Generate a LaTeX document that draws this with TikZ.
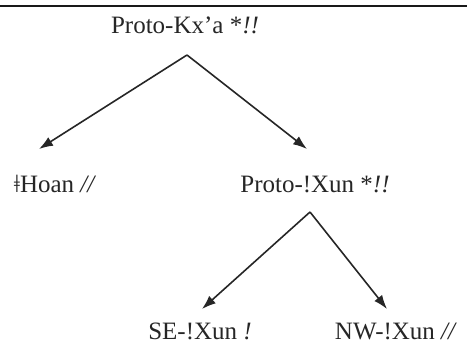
\documentclass[tikz,border=0pt]{standalone}
\usepackage{fontspec}
\setmainfont{Liberation Serif}
\usetikzlibrary{arrows.meta}
\begin{document}
\begin{tikzpicture}[x=1pt,y=-1pt,
  lbl/.style={anchor=base,inner sep=0pt,font=\fontsize{25}{28}\selectfont,text=black!85},
  edge/.style={line width=1.6pt,draw=black!85,-{Latex[length=14pt,width=10pt]}},
  rule/.style={line width=1.6pt,draw=black!90}]
\useasboundingbox (0,0) rectangle (467,360);
\coordinate (ruleL) at (0,6);
\coordinate (ruleR) at (467,6);
\draw[rule] (ruleL) -- (ruleR);
\node[lbl] (kxa) at (185,33) {Proto-Kx’a *\textit{!!}};
\node[lbl] (hoan) at (55,192) {ǂHoan \textit{//}};
\node[lbl] (xun) at (315,192) {Proto-!Xun *\textit{!!}};
\node[lbl] (se) at (200,339) {SE-!Xun \textit{!}};
\node[lbl] (nw) at (396,339) {NW-!Xun \textit{//}};
\coordinate (apexA) at (187,55);
\coordinate (tipHoan) at (39,149);
\coordinate (tipXun) at (307,149);
\coordinate (apexB) at (310,212);
\coordinate (tipSE) at (202,309);
\coordinate (tipNW) at (387,309);
\draw[edge] (apexA) -- (tipHoan);
\draw[edge] (apexA) -- (tipXun);
\draw[edge] (apexB) -- (tipSE);
\draw[edge] (apexB) -- (tipNW);
\end{tikzpicture}
\end{document}
